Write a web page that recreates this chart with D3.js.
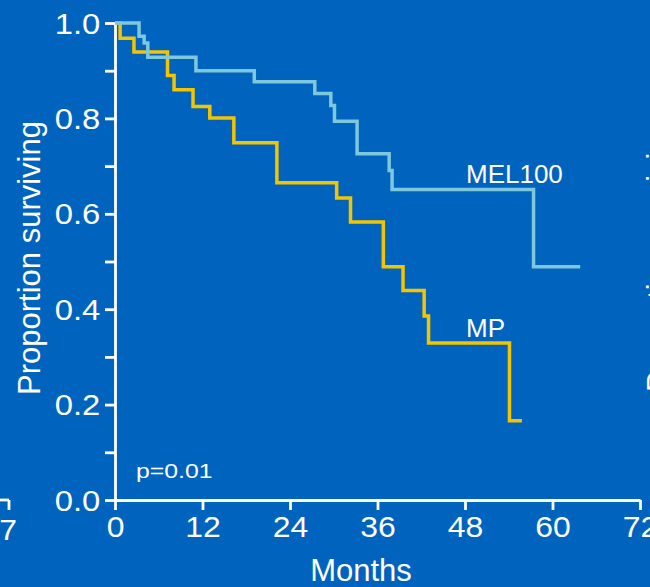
<!DOCTYPE html>
<html>
<head>
<meta charset="utf-8">
<script src="https://cdn.jsdelivr.net/npm/d3@7"></script>
<style>
  html, body { margin:0; padding:0; background:#0064be; overflow:hidden; }
  svg { display:block; font-family:"Liberation Sans", Arial, sans-serif; }
  .axis path, .axis line { stroke:#fff; stroke-width:2.8; }
  .axis text { fill:#fff; }
  .label { fill:#fff; }
</style>
</head>
<body>
<svg id="km" width="650" height="587"></svg>
<script>
// Kaplan-Meier steps (months, proportion surviving)
const melMonths = [0, 3.3, 4.0, 4.5, 11.1, 19.1, 27.4, 29.6, 30.1, 33.2, 37.6, 38.0, 57.4, 63.8];
const melSurv   = [1.0, 0.972, 0.958, 0.928, 0.900, 0.877, 0.852, 0.827, 0.794, 0.726, 0.691, 0.651, 0.489, 0.489];
const mpMonths  = [0, 0.7, 2.6, 7.2, 8.1, 10.7, 13.0, 16.3, 22.2, 30.4, 32.3, 36.8, 39.5, 42.4, 43.0, 54.1, 55.8];
const mpSurv    = [1.0, 0.968, 0.939, 0.890, 0.860, 0.825, 0.801, 0.749, 0.665, 0.633, 0.583, 0.489, 0.439, 0.386, 0.329, 0.166, 0.166];
const xTicks = [0, 12, 24, 36, 48, 60, 72];
const yTicks = [0, 0.1, 0.2, 0.3, 0.4, 0.5, 0.6, 0.7, 0.8, 0.9, 1.0];

function chart(){
    const svg = d3.select('#km');
    const width = +svg.attr('width');
    const height = +svg.attr('height');

    svg.append('rect').attr('width', width).attr('height', height).attr('fill', '#0064be');

    const xscale = d3.scaleLinear().domain([0, 72]).range([115, 640]);
    const yscale = d3.scaleLinear().domain([0, 1]).range([500, 23]);

    const yAxis = svg.append('g')
        .attr('class', 'axis')
        .attr('transform', `translate(${xscale(0)},0)`)
        .call(d3.axisLeft(yscale)
            .tickValues(yTicks)
            .tickSize(10)
            .tickSizeOuter(0)
            .tickPadding(3)
            .tickFormat(d => (Math.round(d * 10) % 2 === 0) ? d3.format('.1f')(d) : ''));
    yAxis.selectAll('text')
        .attr('font-size', 29)
        .attr('dy', '0.35em')
        .attr('transform', 'scale(1.13,1)');

    const xAxis = svg.append('g')
        .attr('class', 'axis')
        .attr('transform', `translate(0,${yscale(0)})`)
        .call(d3.axisBottom(xscale)
            .tickValues(xTicks)
            .tickSize(10)
            .tickSizeOuter(0)
            .tickPadding(6));
    xAxis.selectAll('text')
        .attr('font-size', 29)
        .attr('transform', 'scale(1.1,1)');
    svg.selectAll('.axis .domain').attr('fill', 'none');

    svg.append('text')
        .attr('class', 'label')
        .attr('x', 361).attr('y', 581)
        .attr('text-anchor', 'middle')
        .attr('font-size', 31)
        .text('Months');

    svg.append('text')
        .attr('class', 'label')
        .attr('transform', 'translate(40,258) rotate(-90)')
        .attr('text-anchor', 'middle')
        .attr('font-size', 31)
        .text('Proportion surviving');

    const line = d3.line()
        .x(d => xscale(d[0]))
        .y(d => yscale(d[1]))
        .curve(d3.curveStepAfter);

    svg.append('path')
        .datum(d3.zip(mpMonths, mpSurv))
        .attr('fill', 'none')
        .attr('stroke', '#f5c400')
        .attr('stroke-width', 3.5)
        .attr('d', line);

    svg.append('path')
        .datum(d3.zip(melMonths, melSurv))
        .attr('fill', 'none')
        .attr('stroke', '#7dc8dc')
        .attr('stroke-width', 3.5)
        .attr('d', line);

    svg.append('text').attr('class', 'label')
        .attr('transform', 'translate(466,183) scale(1.04,1)')
        .attr('font-size', 25).text('MEL100');
    svg.append('text').attr('class', 'label')
        .attr('transform', 'translate(466,337) scale(1.04,1)')
        .attr('font-size', 25).text('MP');
    svg.append('text').attr('class', 'label')
        .attr('transform', 'translate(136,478) scale(1.18,1)')
        .attr('font-size', 21).text('p=0.01');

    // bits of the neighbouring panels cut by the crop
    const left = svg.append('g').attr('class', 'axis');
    left.append('line').attr('x1', -5).attr('x2', 9).attr('y1', yscale(0)).attr('y2', yscale(0));
    left.append('line').attr('x1', 9).attr('x2', 9).attr('y1', yscale(0)).attr('y2', yscale(0) + 10);
    left.append('text')
        .attr('transform', 'translate(8,540) scale(1.1,1)')
        .attr('text-anchor', 'middle').attr('font-size', 29).text('7');

    svg.append('text')
        .attr('class', 'label')
        .attr('transform', 'translate(669,392) rotate(-90)')
        .attr('font-size', 31)
        .text('Proportion surviving');
}
chart();
</script>
</body>
</html>
